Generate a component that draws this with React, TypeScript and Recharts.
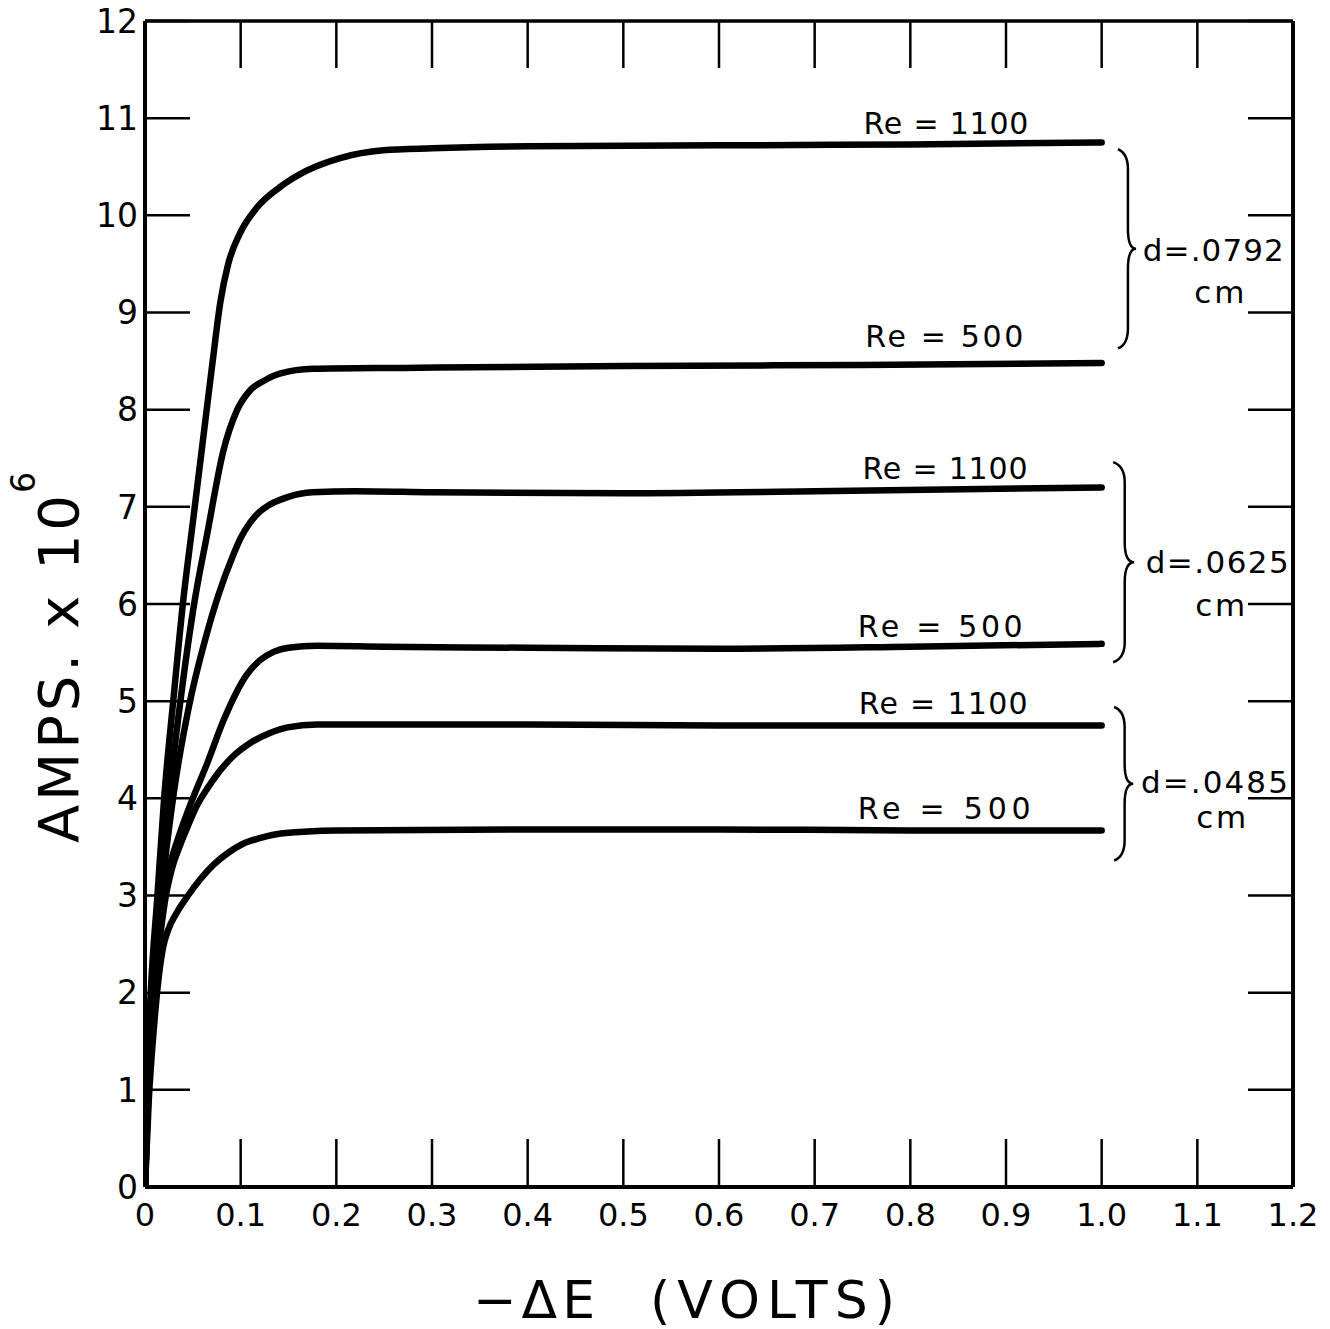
import React from "react";
import {
  LineChart,
  Line,
  XAxis,
  YAxis,
  ReferenceArea,
  ReferenceDot,
} from "recharts";

const FONT = '"DejaVu Sans", "Liberation Sans", sans-serif';
const INK = "#000";

const voltTicks = [0, 0.1, 0.2, 0.3, 0.4, 0.5, 0.6, 0.7, 0.8, 0.9, 1.0, 1.1, 1.2];
const ampTicks = [0, 1, 2, 3, 4, 5, 6, 7, 8, 9, 10, 11, 12];

// d = .0792 cm, Re = 1100
const voltsA1100 = [0, 0.002, 0.006, 0.013, 0.02, 0.03, 0.04, 0.05, 0.06, 0.07, 0.079, 0.087, 0.099, 0.117, 0.141, 0.169, 0.204, 0.249, 0.3, 0.4, 0.6, 0.8, 1.0];
const ampsA1100 = [0, 1, 2, 3, 4, 5.05, 6.04, 6.84, 7.64, 8.44, 9.12, 9.5, 9.81, 10.08, 10.29, 10.46, 10.59, 10.67, 10.69, 10.71, 10.72, 10.73, 10.75];
// d = .0792 cm, Re = 500
const voltsA500 = [0, 0.0025, 0.007, 0.015, 0.025, 0.037, 0.052, 0.065, 0.082, 0.096, 0.11, 0.125, 0.141, 0.176, 0.27, 0.5, 0.75, 1.0];
const ampsA500 = [0, 1, 2, 3, 4, 5, 6.04, 6.72, 7.58, 7.99, 8.2, 8.3, 8.37, 8.42, 8.43, 8.45, 8.46, 8.48];
// d = .0625 cm, Re = 1100
const voltsB1100 = [0, 0.003, 0.008, 0.017, 0.03, 0.046, 0.062, 0.077, 0.092, 0.1, 0.11, 0.12, 0.13, 0.149, 0.175, 0.22, 0.3, 0.5, 0.7, 1.0];
const ampsB1100 = [0, 1, 2, 3, 4.05, 4.95, 5.6, 6.1, 6.5, 6.68, 6.84, 6.95, 7.02, 7.1, 7.15, 7.16, 7.15, 7.14, 7.16, 7.2];
// d = .0625 cm, Re = 500
const voltsB500 = [0, 0.0035, 0.009, 0.014, 0.02, 0.027, 0.035, 0.048, 0.065, 0.082, 0.095, 0.107, 0.12, 0.135, 0.15, 0.18, 0.25, 0.4, 0.6, 0.8, 1.0];
const ampsB500 = [0, 1, 2, 2.6, 3.05, 3.35, 3.6, 3.95, 4.36, 4.8, 5.08, 5.28, 5.42, 5.51, 5.55, 5.57, 5.56, 5.55, 5.54, 5.56, 5.59];
// d = .0485 cm, Re = 1100
const voltsC1100 = [0, 0.003, 0.01, 0.015, 0.021, 0.028, 0.036, 0.045, 0.054, 0.065, 0.078, 0.095, 0.11, 0.13, 0.149, 0.18, 0.25, 0.4, 0.6, 0.8, 1.0];
const ampsC1100 = [0, 1, 2, 2.5, 2.95, 3.27, 3.5, 3.72, 3.92, 4.1, 4.28, 4.46, 4.57, 4.67, 4.73, 4.76, 4.76, 4.76, 4.75, 4.75, 4.75];
// d = .0485 cm, Re = 500
const voltsC500 = [0, 0.004, 0.009, 0.014, 0.019, 0.024, 0.033, 0.045, 0.058, 0.072, 0.087, 0.102, 0.12, 0.144, 0.2, 0.4, 0.6, 0.8, 1.0];
const ampsC500 = [0, 0.9, 1.6, 2.13, 2.47, 2.64, 2.82, 3.0, 3.17, 3.32, 3.44, 3.53, 3.59, 3.64, 3.67, 3.68, 3.68, 3.67, 3.67];

const toPoints = (xs: number[], ys: number[]) => xs.map((x, i) => ({ x, y: ys[i] }));

const curves = [
  toPoints(voltsA1100, ampsA1100),
  toPoints(voltsA500, ampsA500),
  toPoints(voltsB1100, ampsB1100),
  toPoints(voltsB500, ampsB500),
  toPoints(voltsC1100, ampsC1100),
  toPoints(voltsC500, ampsC500),
];

// curve labels: text, anchor (volts, amps), drawn width
const reNotes = [
  { text: "Re = 1100", x: 0.751, y: 10.84, w: 165 },
  { text: "Re = 500", x: 0.753, y: 8.64, w: 158 },
  { text: "Re = 1100", x: 0.75, y: 7.29, w: 165 },
  { text: "Re = 500", x: 0.745, y: 5.66, w: 165 },
  { text: "Re = 1100", x: 0.746, y: 4.87, w: 169 },
  { text: "Re = 500", x: 0.745, y: 3.79, w: 173 },
];

const diaNotes = [
  { text: "d=.0792", x: 1.043, y: 9.53, w: 141 },
  { text: "d=.0625", x: 1.046, y: 6.32, w: 143 },
  { text: "d=.0485", x: 1.041, y: 4.06, w: 147 },
];
const cmNotes = [
  { x: 1.123, y: 9.1 },
  { x: 1.124, y: 5.88 },
  { x: 1.125, y: 3.69 },
];

const braces = [
  { x1: 1.017, x2: 1.036, y1: 8.63, y2: 10.68 },
  { x1: 1.012, x2: 1.034, y1: 5.4, y2: 7.46 },
  { x1: 1.013, x2: 1.033, y1: 3.36, y2: 4.94 },
];

const Brace = (props: any) => {
  const { x, y, width, height } = props;
  const mid = x + width * 0.55;
  const right = x + width;
  const cy = y + height / 2;
  const bot = y + height;
  const r = 20;
  const d = `M${x},${y} Q${mid},${y + 4} ${mid},${y + r} L${mid},${cy - r} Q${mid},${cy} ${right},${cy} Q${mid},${cy} ${mid},${cy + r} L${mid},${bot - r} Q${mid},${bot - 4} ${x},${bot}`;
  return <path d={d} fill="none" stroke={INK} strokeWidth={2.5} />;
};

const noteShape = (text: string, w: number, size: number, anchor: "start" | "middle") => (p: any) => (
  <text
    x={p.cx}
    y={p.cy}
    fontFamily={FONT}
    fontSize={size}
    fill={INK}
    textAnchor={anchor}
    textLength={w}
    lengthAdjust="spacing"
  >
    {text}
  </text>
);

const yTitle = (props: any) => {
  const vb = props.viewBox || { x: 85, y: 21, width: 60, height: 1166 };
  const bx = vb.x - 7;
  const sy = vb.y + vb.height - 344;
  return (
    <g>
      <text
        x={bx}
        y={sy}
        transform={`rotate(-90 ${bx} ${sy})`}
        fontFamily={FONT}
        fontSize={56}
        fill={INK}
        textLength={348}
        lengthAdjust="spacing"
      >
        AMPS. x 10
      </text>
      <text
        x={bx - 43}
        y={sy - 350}
        transform={`rotate(-90 ${bx - 43} ${sy - 350})`}
        fontFamily={FONT}
        fontSize={33}
        fill={INK}
      >
        6
      </text>
    </g>
  );
};

const xTitle = (props: any) => {
  const vb = props.viewBox || { x: 145, y: 1187, width: 1148, height: 60 };
  const by = vb.y + 131;
  return (
    <g fontFamily={FONT} fontSize={52} fill={INK}>
      <text x={vb.x + 328} y={by} textLength={122} lengthAdjust="spacing">
        −ΔE
      </text>
      <text x={vb.x + 505} y={by} textLength={245} lengthAdjust="spacing">
        (VOLTS)
      </text>
    </g>
  );
};

const fmtVolt = (v: number) => (v === 0 ? "0" : v.toFixed(1));
const blank = () => "";

export default function App() {
  return (
    <div style={{ position: "absolute", left: 0, top: 0, background: "#fff" }}>
      <LineChart
        width={1330}
        height={1329}
        margin={{ top: 20, right: 36, bottom: 82, left: 85 }}
      >
        <XAxis
          xAxisId={0}
          type="number"
          dataKey="x"
          domain={[0, 1.2]}
          ticks={voltTicks}
          interval={0}
          tickFormatter={fmtVolt}
          height={60}
          tickSize={-48}
          tickMargin={64}
          axisLine={{ stroke: INK, strokeWidth: 4 }}
          tickLine={{ stroke: INK, strokeWidth: 2.5 }}
          tick={{ fill: INK, fontSize: 32, fontFamily: FONT }}
          label={xTitle}
          allowDataOverflow
        />
        <XAxis
          xAxisId="top"
          orientation="top"
          type="number"
          dataKey="x"
          domain={[0, 1.2]}
          ticks={voltTicks}
          interval={0}
          tickFormatter={blank}
          height={1}
          tickSize={-47}
          axisLine={{ stroke: INK, strokeWidth: 3.5 }}
          tickLine={{ stroke: INK, strokeWidth: 2.5 }}
          allowDataOverflow
        />
        <YAxis
          yAxisId={0}
          type="number"
          domain={[0, 12]}
          ticks={ampTicks}
          interval={0}
          width={60}
          tickSize={-45}
          tickMargin={52}
          axisLine={{ stroke: INK, strokeWidth: 4 }}
          tickLine={{ stroke: INK, strokeWidth: 2.5 }}
          tick={{ fill: INK, fontSize: 33, fontFamily: FONT }}
          label={yTitle}
          allowDataOverflow
        />
        <YAxis
          yAxisId="right"
          orientation="right"
          type="number"
          domain={[0, 12]}
          ticks={ampTicks}
          interval={0}
          width={1}
          tickSize={-45}
          tickFormatter={blank}
          axisLine={{ stroke: INK, strokeWidth: 4 }}
          tickLine={{ stroke: INK, strokeWidth: 2.5 }}
          allowDataOverflow
        />
        {curves.map((pts, i) => (
          <Line
            key={i}
            data={pts}
            dataKey="y"
            xAxisId={0}
            yAxisId={0}
            type="monotone"
            stroke={INK}
            strokeWidth={6.5}
            strokeLinecap="round"
            strokeLinejoin="round"
            dot={false}
            activeDot={false}
            isAnimationActive={false}
          />
        ))}
        {braces.map((b, i) => (
          <ReferenceArea
            key={`b${i}`}
            x1={b.x1}
            x2={b.x2}
            y1={b.y1}
            y2={b.y2}
            shape={Brace}
            ifOverflow="visible"
          />
        ))}
        {reNotes.map((n, i) => (
          <ReferenceDot
            key={`r${i}`}
            x={n.x}
            y={n.y}
            r={0}
            shape={noteShape(n.text, n.w, 30, "start")}
            ifOverflow="visible"
          />
        ))}
        {diaNotes.map((n, i) => (
          <ReferenceDot
            key={`d${i}`}
            x={n.x}
            y={n.y}
            r={0}
            shape={noteShape(n.text, n.w, 31, "start")}
            ifOverflow="visible"
          />
        ))}
        {cmNotes.map((n, i) => (
          <ReferenceDot
            key={`c${i}`}
            x={n.x}
            y={n.y}
            r={0}
            shape={noteShape("cm", 50, 31, "middle")}
            ifOverflow="visible"
          />
        ))}
      </LineChart>
    </div>
  );
}
